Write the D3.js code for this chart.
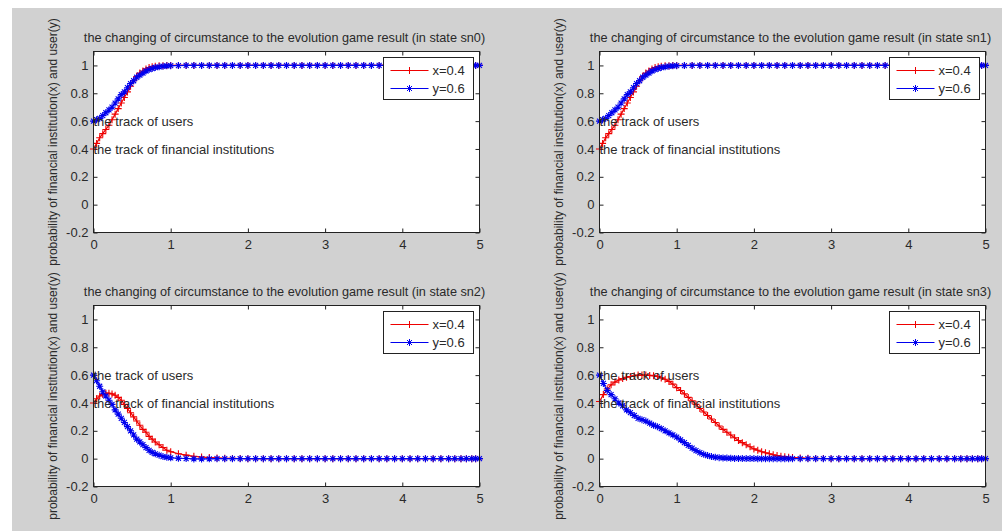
<!DOCTYPE html>
<html>
<head>
<meta charset="utf-8">
<script src="https://cdn.jsdelivr.net/npm/d3@7"></script>
<style>
  body { margin: 0; background: #fff; }
  svg text { font-family: "Liberation Sans", Arial, sans-serif; fill: #2a2a2a; }
</style>
</head>
<body>
<div id="chart"></div>
<script>
// solver time steps (sn0, sn1, sn2 share one grid)
const tA = [0, 0.04, 0.08, 0.12, 0.16, 0.2, 0.24, 0.28, 0.32, 0.36, 0.4, 0.44, 0.48, 0.52, 0.56, 0.6, 0.64, 0.68, 0.72, 0.76, 0.8, 0.85, 0.9, 0.95, 1.0,
  1.1, 1.2, 1.3, 1.4, 1.5, 1.6, 1.7, 1.8, 1.9, 2.0, 2.1, 2.2, 2.3, 2.4, 2.5, 2.6, 2.7, 2.8, 2.9, 3.0, 3.1, 3.2, 3.3,
  3.4, 3.5, 3.6, 3.7, 3.8, 3.9, 4.0, 4.1, 4.2, 4.3, 4.4, 4.5, 4.6, 4.68, 4.76, 4.83, 4.9, 4.95, 5.0];

// sn3 needs a finer grid up to 2.5
const tC = [0, 0.05, 0.1, 0.15, 0.2, 0.25, 0.3, 0.35, 0.4, 0.45, 0.5, 0.55, 0.6, 0.65, 0.7, 0.75, 0.8, 0.85, 0.9, 0.95,
  1.0, 1.05, 1.1, 1.15, 1.2, 1.25, 1.3, 1.35, 1.4, 1.45, 1.5, 1.55, 1.6, 1.65, 1.7, 1.75, 1.8, 1.85, 1.9, 1.95,
  2.0, 2.05, 2.1, 2.15, 2.2, 2.25, 2.3, 2.35, 2.4, 2.45, 2.5,
  2.6, 2.7, 2.8, 2.9, 3.0, 3.1, 3.2, 3.3, 3.4, 3.5, 3.6, 3.7, 3.8, 3.9, 4.0, 4.1, 4.2, 4.3, 4.4, 4.5, 4.6,
  4.68, 4.76, 4.83, 4.9, 4.95, 5.0];

// financial institutions (x) and users (y), state sn0
const sn0X = [0.40, 0.44, 0.48, 0.51, 0.54, 0.57, 0.61, 0.65, 0.69, 0.73, 0.77, 0.81, 0.85, 0.89, 0.92, 0.945, 0.96, 0.975, 0.985, 0.99, 0.994, 0.997, 0.998, 0.999, 1.0,
  1, 1, 1, 1, 1, 1, 1, 1, 1, 1, 1, 1, 1, 1, 1, 1, 1, 1, 1, 1, 1,
  1, 1, 1, 1, 1, 1, 1, 1, 1, 1, 1, 1, 1, 1, 1, 1, 1, 1, 1, 1, 1];
const sn0Y = [0.60, 0.61, 0.62, 0.64, 0.66, 0.68, 0.70, 0.73, 0.76, 0.79, 0.81, 0.84, 0.87, 0.89, 0.915, 0.93, 0.945, 0.96, 0.97, 0.978, 0.985, 0.99, 0.994, 0.997, 0.998,
  0.999, 1, 1, 1, 1, 1, 1, 1, 1, 1, 1, 1, 1, 1, 1, 1, 1, 1, 1, 1, 1,
  1, 1, 1, 1, 1, 1, 1, 1, 1, 1, 1, 1, 1, 1, 1, 1, 1, 1, 1, 1, 1];

// state sn1 looks identical to sn0
const sn1X = sn0X.slice();
const sn1Y = sn0Y.slice();

// state sn2
const sn2X = [0.40, 0.43, 0.45, 0.46, 0.47, 0.47, 0.465, 0.455, 0.44, 0.42, 0.39, 0.36, 0.33, 0.30, 0.27, 0.24, 0.21, 0.19, 0.16, 0.14, 0.12, 0.10, 0.08, 0.06, 0.05,
  0.035, 0.025, 0.017, 0.012, 0.008, 0.005, 0.003, 0.002, 0.001, 0, 0, 0, 0, 0, 0, 0, 0, 0, 0, 0, 0,
  0, 0, 0, 0, 0, 0, 0, 0, 0, 0, 0, 0, 0, 0, 0, 0, 0, 0, 0, 0, 0];
const sn2Y = [0.60, 0.56, 0.52, 0.48, 0.45, 0.42, 0.39, 0.35, 0.32, 0.29, 0.26, 0.23, 0.20, 0.17, 0.14, 0.12, 0.10, 0.08, 0.06, 0.045, 0.035, 0.025, 0.015, 0.01, 0.006,
  0.003, 0.001, -0.002, -0.002, -0.001, 0, 0, 0, 0, 0, 0, 0, 0, 0, 0, 0, 0, 0, 0, 0, 0,
  0, 0, 0, 0, 0, 0, 0, 0, 0, 0, 0, 0, 0, 0, 0, 0, 0, 0, 0, 0, 0];

// state sn3
const sn3X = [0.41, 0.46, 0.50, 0.53, 0.55, 0.565, 0.575, 0.585, 0.59, 0.595,
  0.60, 0.60, 0.60, 0.598, 0.595, 0.59, 0.58, 0.57, 0.555, 0.535,
  0.51, 0.49, 0.465, 0.44, 0.415, 0.39, 0.36, 0.335, 0.31, 0.285,
  0.26, 0.235, 0.21, 0.19, 0.17, 0.15, 0.13, 0.115, 0.10, 0.085,
  0.07, 0.06, 0.05, 0.042, 0.035, 0.028, 0.022, 0.017, 0.013, 0.01, 0.008,
  0.005, 0.003, 0.002, 0.001, 0, 0, 0, 0, 0, 0, 0, 0, 0, 0, 0, 0, 0, 0, 0, 0, 0,
  0, 0, 0, 0, 0, 0];
const sn3Y = [0.60, 0.54, 0.49, 0.46, 0.43, 0.40, 0.38, 0.35, 0.33, 0.31,
  0.29, 0.28, 0.27, 0.255, 0.24, 0.23, 0.215, 0.20, 0.185, 0.17,
  0.155, 0.135, 0.115, 0.095, 0.075, 0.058, 0.043, 0.031, 0.022, 0.015,
  0.01, 0.007, 0.005, 0.004, 0.003, 0.002, 0.002, 0.001, 0.001, 0.001,
  0.001, 0, 0, 0, 0, 0, 0, 0, 0, 0, 0,
  0, 0, 0, 0, 0, 0, 0, 0, 0, 0, 0, 0, 0, 0, 0, 0, 0, 0, 0, 0, 0,
  0, 0, 0, 0, 0, 0];

const states = ["sn0", "sn1", "sn2", "sn3"];
const times = [tA, tA, tA, tC];
const seriesX = [sn0X, sn1X, sn2X, sn3X];
const seriesY = [sn0Y, sn1Y, sn2Y, sn3Y];

const xTicks = [0, 1, 2, 3, 4, 5];
const xTickLabels = ["0", "1", "2", "3", "4", "5"];
const yTicks = [-0.2, 0, 0.2, 0.4, 0.6, 0.8, 1];
const yTickLabels = ["-0.2", "0", "0.2", "0.4", "0.6", "0.8", "1"];
const legendLabels = ["x=0.4", "y=0.6"];
const notes = [
  { text: "the track of users", t: 0, v: 0.6 },
  { text: "the track of financial institutions", t: 0, v: 0.4 }
];
const titleText = s => `the changing of circumstance to the evolution game result (in state ${s})`;
const yLabelText = "probability of financial institution(x) and user(y)";

// layout
const W = 1002, H = 531;
const plotW = 386, plotH = 181;
const colLeft = [93, 599];
const rowTop = [51, 305];
const red = "#ee0000", blue = "#0000ee";

const svg = d3.select("#chart").append("svg")
  .attr("width", W)
  .attr("height", H);

svg.append("rect").attr("width", W).attr("height", H).attr("fill", "#fff");
svg.append("rect").attr("x", 12).attr("y", 8).attr("width", W - 12).attr("height", H - 8)
  .attr("fill", "#d1d1d1");

const x = d3.scaleLinear().domain([0, 5]).range([0, plotW]);
const y = d3.scaleLinear().domain([-0.2, 1.1]).range([plotH, 0]);

const plusPath = "M-3.5,0H3.5M0,-3.5V3.5";
const starPath = "M-3.5,0H3.5M0,-3.5V3.5M-2.5,-2.5L2.5,2.5M-2.5,2.5L2.5,-2.5";

function drawSeries(g, t, vals, color, marker) {
  const pts = t.map((d, i) => [d, vals[i]]).filter(p => p[1] != null);
  g.append("path")
    .datum(pts)
    .attr("fill", "none")
    .attr("stroke", color)
    .attr("stroke-width", 1.2)
    .attr("d", d3.line().x(p => x(p[0])).y(p => y(p[1])));
  g.append("g").selectAll("path")
    .data(pts)
    .enter().append("path")
    .attr("transform", p => `translate(${x(p[0])},${y(p[1])})`)
    .attr("d", marker)
    .attr("stroke", color)
    .attr("stroke-width", 1.1)
    .attr("fill", "none");
}

states.forEach((s, i) => {
  const left = colLeft[i % 2], top = rowTop[Math.floor(i / 2)];
  const g = svg.append("g").attr("transform", `translate(${left + 0.5},${top + 0.5})`);

  g.append("rect").attr("width", plotW).attr("height", plotH).attr("fill", "#fff");

  // axes, MATLAB style: inward ticks on all four sides
  const bottom = g.append("g").attr("transform", `translate(0,${plotH})`)
    .call(d3.axisBottom(x).tickValues(xTicks).tickFormat((d, k) => xTickLabels[k])
      .tickSizeInner(-4).tickSizeOuter(0).tickPadding(7));
  const leftAx = g.append("g")
    .call(d3.axisLeft(y).tickValues(yTicks).tickFormat((d, k) => yTickLabels[k])
      .tickSizeInner(-4).tickSizeOuter(0).tickPadding(5));
  g.append("g")
    .call(d3.axisTop(x).tickValues(xTicks).tickFormat("").tickSizeInner(-4).tickSizeOuter(0));
  g.append("g").attr("transform", `translate(${plotW},0)`)
    .call(d3.axisRight(y).tickValues(yTicks).tickFormat("").tickSizeInner(-4).tickSizeOuter(0));
  g.selectAll(".domain").remove();
  g.selectAll(".tick line").attr("stroke", "#222");
  [bottom, leftAx].forEach(a => a.selectAll("text")
    .style("font-size", "13px").style("font-family", "'Liberation Sans', Arial, sans-serif")
    .attr("fill", "#222"));

  // curves: x first, y drawn over it
  drawSeries(g, times[i], seriesX[i], red, plusPath);
  drawSeries(g, times[i], seriesY[i], blue, starPath);

  // frame
  g.append("rect").attr("width", plotW).attr("height", plotH)
    .attr("fill", "none").attr("stroke", "#222").attr("stroke-width", 1);

  // annotations
  notes.forEach(n => {
    g.append("text")
      .attr("x", x(n.t)).attr("y", y(n.v)).attr("dy", "0.35em")
      .style("font-size", "13px")
      .text(n.text);
  });

  // legend
  const lg = g.append("g").attr("transform", `translate(${plotW - 96},6)`);
  lg.append("rect").attr("width", 90).attr("height", 42)
    .attr("fill", "#fff").attr("stroke", "#222").attr("stroke-width", 1);
  legendLabels.forEach((lab, k) => {
    const ly = 13 + k * 18;
    const col = k === 0 ? red : blue;
    lg.append("line").attr("x1", 7).attr("x2", 45).attr("y1", ly).attr("y2", ly)
      .attr("stroke", col).attr("stroke-width", 1.2);
    lg.append("path").attr("transform", `translate(26,${ly})`)
      .attr("d", k === 0 ? plusPath : starPath).attr("stroke", col).attr("fill", "none");
    lg.append("text").attr("x", 49).attr("y", ly).attr("dy", "0.35em")
      .style("font-size", "13px").text(lab);
  });

  // title
  g.append("text")
    .attr("x", plotW / 2 - 2).attr("y", -14).attr("dy", "0.35em")
    .attr("text-anchor", "middle")
    .style("font-size", "12.7px")
    .text(titleText(s));

  // y label
  g.append("text")
    .attr("transform", `translate(-41,${plotH / 2}) rotate(-90)`)
    .attr("dy", "0.35em")
    .attr("text-anchor", "middle")
    .style("font-size", "12px")
    .text(yLabelText);
});
</script>
</body>
</html>
